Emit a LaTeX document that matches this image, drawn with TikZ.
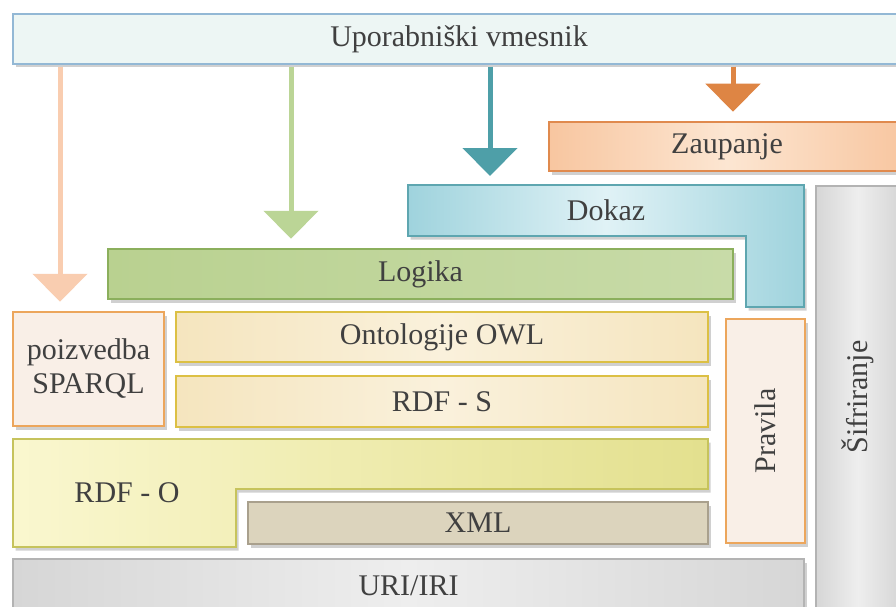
\documentclass[tikz,border=0pt]{standalone}
\usepackage{fontspec}
\setmainfont{Liberation Serif}
\usetikzlibrary{arrows.meta,shadows,calc}
\definecolor{txt}{HTML}{404040}
\definecolor{uiFill}{HTML}{EDF6F4}
\definecolor{uiDraw}{HTML}{93B8D5}
\definecolor{zL}{HTML}{F8C6A0}
\definecolor{zM}{HTML}{FCE6D2}
\definecolor{zDraw}{HTML}{E08A4E}
\definecolor{dL}{HTML}{9FD3DD}
\definecolor{dM}{HTML}{E0F2F6}
\definecolor{dDraw}{HTML}{5EA6B0}
\definecolor{lL}{HTML}{B9D190}
\definecolor{lR}{HTML}{C8DBA8}
\definecolor{lDraw}{HTML}{8BAF5C}
\definecolor{oL}{HTML}{F5E5BE}
\definecolor{oM}{HTML}{FAF1DC}
\definecolor{oDraw}{HTML}{DCC044}
\definecolor{pFill}{HTML}{F9EFE7}
\definecolor{pDraw}{HTML}{ECA65C}
\definecolor{rL}{HTML}{FAF7CF}
\definecolor{rR}{HTML}{E3E08E}
\definecolor{rDraw}{HTML}{C6C35C}
\definecolor{xFill}{HTML}{DCD4BD}
\definecolor{xDraw}{HTML}{A9A08D}
\definecolor{gL}{HTML}{D6D6D6}
\definecolor{gM}{HTML}{EEEEEE}
\definecolor{gDraw}{HTML}{B3B3B3}
\definecolor{aPeach}{HTML}{F9CDB0}
\definecolor{aGreen}{HTML}{BBD596}
\definecolor{aTeal}{HTML}{4E9FA8}
\definecolor{aOrange}{HTML}{DE8544}
\tikzset{
  layer/.style={line width=2.5pt, inner sep=0pt, text=txt,
    drop shadow={opacity=0.3, fill=black!60, shadow xshift=2.5pt, shadow yshift=-3.5pt}},
  flow/.style={line width=5pt, shorten <=1.5pt, shorten >=9pt,
    -{Triangle[width=54pt,length=28pt]}},
}
\begin{document}
\begin{tikzpicture}[x=1pt,y=-1pt,font=\fontsize{30}{34}\selectfont]
\useasboundingbox (0,0) rectangle (896,607);
\clip (0,0) rectangle (896,607);
\fill[white] (0,0) rectangle (896,607);

% plain layers
\node[layer, draw=uiDraw, fill=uiFill, minimum width=892pt, minimum height=50pt] (ui) at (459,39) {Uporabniški vmesnik};
\node[layer, draw=zDraw, left color=zL, right color=zL, middle color=zM, minimum width=356pt, minimum height=49pt] (zaup) at (727,146.5) {Zaupanje};
\node[layer, draw=gDraw, left color=gL, right color=gL, middle color=gM, minimum width=84pt, minimum height=430pt] (sif) at (858,401) {};
\node[rotate=90, text=txt] (siftext) at (858,397) {Šifriranje};

% Dokaz (L shape)
\path[layer, draw=dDraw, left color=dL, right color=dL, middle color=dM]
  (408,185) -- (804,185) -- (804,307) -- (746,307) -- (746,236) -- (408,236) -- cycle;
\node[text=txt] (dokaz) at (606,210.5) {Dokaz};
\coordinate (dokaztop) at (606,185);

\node[layer, draw=lDraw, left color=lL, right color=lR, minimum width=625pt, minimum height=50pt] (logika) at (420.5,274) {Logika};
\node[layer, draw=pDraw, fill=pFill, minimum width=79pt, minimum height=224pt] (pravilabox) at (765.5,431) {};
\node[rotate=90, text=txt] (pravila) at (765.5,431) {Pravila};
\node[layer, draw=pDraw, fill=pFill, minimum width=151pt, minimum height=114pt, align=center] (poiz) at (88.5,369) {poizvedba\\SPARQL};
\node[layer, draw=oDraw, left color=oL, right color=oL, middle color=oM, minimum width=532pt, minimum height=50pt] (owl) at (442,337) {Ontologije OWL};
\node[layer, draw=oDraw, left color=oL, right color=oL, middle color=oM, minimum width=532pt, minimum height=51pt] (rdfs) at (442,401.5) {RDF - S};

% RDF-O (L shape)
\path[layer, draw=rDraw, left color=rL, right color=rR]
  (13,439) -- (708,439) -- (708,489) -- (236,489) -- (236,547) -- (13,547) -- cycle;
\node[text=txt] (rdfo) at (127,493) {RDF - O};

\node[layer, draw=xDraw, fill=xFill, minimum width=460pt, minimum height=42pt] (xml) at (478,523) {XML};
\node[layer, draw=gDraw, left color=gL, right color=gL, middle color=gM, minimum width=791pt, minimum height=53pt] (uri) at (408.5,585.5) {URI/IRI};

% arrows
\coordinate (x1) at (60,0);
\coordinate (x2) at (291,0);
\coordinate (x3) at (490,0);
\coordinate (x4) at (733,0);
\draw[flow, aPeach] (ui.south -| x1) -- (poiz.north -| x1);
\draw[flow, aGreen] (ui.south -| x2) -- (logika.north -| x2);
\draw[flow, aTeal] (ui.south -| x3) -- (dokaztop -| x3);
\draw[flow, aOrange] (ui.south -| x4) -- (zaup.north -| x4);
\end{tikzpicture}
\end{document}
